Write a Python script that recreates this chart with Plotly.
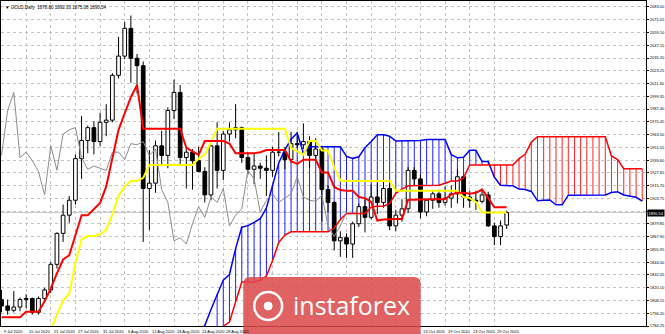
import plotly.graph_objects as go

# ---------------- data (GOLD, Daily) ----------------
opens = [1809, 1803, 1799, 1802, 1809, 1810, 1797, 1810, 1818, 1842,
         1871, 1888, 1902, 1941, 1958, 1970, 1957, 1975, 1977, 2019,
         2037, 2063, 2035, 2028, 1913, 1918, 1953, 1944, 1986, 2003,
         1942, 1947, 1939, 1929, 1907, 1953, 1930, 1964, 1968, 1970,
         1942, 1931, 1934, 1932, 1930, 1947, 1947, 1940, 1955, 1954,
         1957, 1944, 1950, 1912, 1900, 1864, 1867, 1861, 1880, 1896,
         1886, 1905, 1900, 1913, 1878, 1888, 1894, 1930, 1922, 1891,
         1902, 1908, 1900, 1904, 1908, 1924, 1905, 1902, 1901, 1907,
         1878, 1868, 1878.80]
highs = [1818, 1809, 1817, 1811, 1814, 1811, 1812, 1820, 1844, 1872,
         1898, 1906, 1945, 1981, 1972, 1976, 1984, 1992, 2021, 2055,
         2069, 2075, 2039, 2032, 1949, 1958, 1967, 1989, 2015, 2010,
         1951, 1950, 1952, 1933, 1954, 1975, 1967, 1975, 1992, 1971,
         1947, 1946, 1937, 1944, 1952, 1966, 1952, 1966, 1966, 1974,
         1962, 1960, 1953, 1916, 1901, 1873, 1871, 1882, 1899, 1903,
         1917, 1918, 1920, 1921, 1893, 1903, 1933, 1933, 1926, 1903,
         1911, 1912, 1915, 1916, 1931, 1925, 1911, 1911, 1913, 1910,
         1881, 1883, 1892.33]
lows = [1797, 1795, 1797, 1798, 1801, 1795, 1795, 1807, 1815, 1838,
        1863, 1881, 1898, 1922, 1946, 1945, 1953, 1962, 1975, 2016,
        2034, 2012, 2002, 1863, 1874, 1909, 1935, 1932, 1978, 1934,
        1913, 1912, 1928, 1900, 1902, 1913, 1921, 1957, 1960, 1937,
        1926, 1917, 1922, 1906, 1924, 1943, 1931, 1937, 1951, 1950,
        1932, 1941, 1882, 1891, 1855, 1849, 1848, 1848, 1877, 1872,
        1884, 1889, 1895, 1874, 1873, 1882, 1890, 1916, 1885, 1887,
        1894, 1895, 1897, 1895, 1899, 1895, 1895, 1893, 1899, 1877,
        1860, 1860, 1875.08]
closes = [1803, 1799, 1802, 1809, 1810, 1797, 1810, 1818, 1842, 1871,
          1888, 1902, 1941, 1958, 1970, 1957, 1975, 1977, 2019, 2037,
          2063, 2035, 2028, 1913, 1918, 1953, 1944, 1986, 2003, 1942,
          1947, 1939, 1929, 1907, 1953, 1930, 1964, 1968, 1970, 1942,
          1931, 1934, 1932, 1930, 1947, 1947, 1940, 1955, 1954, 1957,
          1944, 1950, 1912, 1900, 1864, 1867, 1861, 1880, 1896, 1886,
          1905, 1900, 1913, 1878, 1888, 1894, 1930, 1922, 1891, 1902,
          1908, 1900, 1904, 1908, 1924, 1905, 1902, 1901, 1907, 1878,
          1868, 1878, 1890.54]

tenkan = [1792.5, 1792.5, 1792.5, 1792.5, 1797.5, 1797.5, 1797.5, 1807.5, 1819.5, 1833.5,
          1846.5, 1850.5, 1870, 1888, 1888, 1894, 1899.5, 1915, 1942, 1968,
          1983.5, 1998.5, 2010, 1969, 1969, 1969, 1969, 1969, 1969, 1969,
          1951, 1947.5, 1944.5, 1957.5, 1957.5, 1957.5, 1957.5, 1955, 1946, 1946,
          1946, 1946, 1947, 1949, 1949, 1949, 1949, 1938.5, 1936, 1940,
          1940, 1940, 1928, 1928, 1914.5, 1911.5, 1911, 1911, 1905, 1904,
          1900.5, 1883, 1884, 1884.5, 1884.5, 1884.5, 1902.5, 1902.5, 1903, 1903,
          1903, 1903, 1903, 1907.5, 1909, 1909, 1908, 1909, 1912, 1904,
          1895.5, 1895.5, 1895.5]
kijun = [1744, 1744, 1747.5, 1755.5, 1761, 1761, 1761, 1762, 1780, 1795,
         1808, 1814.5, 1843.5, 1865.5, 1868.5, 1868.5, 1870, 1874.5, 1889, 1906,
         1915, 1920, 1920, 1923, 1935, 1935, 1935, 1935, 1935, 1935,
         1935, 1935, 1941, 1945, 1956.5, 1969, 1969, 1969, 1969, 1969,
         1969, 1969, 1969, 1969, 1969, 1969, 1969, 1951, 1947.5, 1944.5,
         1957.5, 1957.5, 1948.5, 1948.5, 1932.5, 1920.5, 1920, 1920, 1920, 1920,
         1920, 1920, 1920, 1920, 1911, 1911, 1911, 1911, 1911, 1911,
         1911, 1911, 1911, 1911, 1911, 1905, 1904, 1900.5, 1890.5, 1890.5,
         1890.5, 1890.5, 1890.5]

span_a_start = 32
span_a = [1779, 1784.75, 1799.75, 1814.25, 1827.25, 1832.5, 1856.75, 1876.75, 1878.25, 1881.25,
          1884.75, 1894.75, 1915.5, 1937, 1949.25, 1959.25, 1965, 1946, 1952, 1952,
          1952, 1952, 1952, 1952, 1943, 1941.25, 1942.75, 1951.25, 1957, 1963.25,
          1963.25, 1962, 1957.5, 1957.5, 1957.5, 1957.5, 1958, 1959, 1959, 1959,
          1959, 1944.75, 1941.75, 1942.25, 1948.75, 1948.75, 1938.25, 1938.25, 1923.5, 1916,
          1915.5, 1915.5, 1912.5, 1912, 1910.25, 1901.5, 1902, 1902.25, 1897.75, 1897.75,
          1906.75, 1906.75, 1907, 1907, 1907, 1907, 1907, 1909.25, 1910, 1907,
          1906, 1904.75, 1901.25]
span_b_start = 35
span_b = [1771, 1784, 1788, 1807.5, 1825.5, 1825.5, 1825.5, 1827, 1831, 1845.5,
          1862.5, 1869.5, 1872.5, 1872.5, 1872.5, 1872.5, 1872.5, 1872.5, 1872.5, 1876,
          1884, 1889.5, 1889.5, 1889.5, 1889.5, 1895.5, 1896.5, 1896.5, 1899, 1908.5,
          1912.5, 1915.5, 1915.5, 1915.5, 1916, 1916, 1916, 1918, 1920, 1920,
          1923, 1935, 1935, 1935, 1935, 1935, 1935, 1935, 1935, 1941,
          1945, 1956.5, 1961.5, 1961.5, 1961.5, 1961.5, 1961.5, 1961.5, 1961.5, 1961.5,
          1961.5, 1961.5, 1961.5, 1961.5, 1943.5, 1940, 1931.5, 1931.5, 1931.5, 1931.5]

chikou_shift = 26

date_tick_idx = [0, 4, 8, 12, 16, 20, 24, 28, 32, 36, 40, 44, 48, 52, 56, 60, 64, 68, 72, 76, 80]
date_tick_text = ["9 Jul 2020", "15 Jul 2020", "21 Jul 2020", "27 Jul 2020", "31 Jul 2020",
                  "6 Aug 2020", "12 Aug 2020", "18 Aug 2020", "24 Aug 2020", "28 Aug 2020",
                  "3 Sep 2020", "9 Sep 2020", "15 Sep 2020", "21 Sep 2020", "25 Sep 2020",
                  "1 Oct 2020", "7 Oct 2020", "13 Oct 2020", "19 Oct 2020", "23 Oct 2020",
                  "29 Oct 2020"]

price_ticks = [2083.00, 2071.05, 2059.10, 2047.15, 2035.20, 2023.25, 2011.30, 1999.35,
               1987.40, 1975.45, 1963.50, 1951.55, 1939.60, 1927.65, 1915.70, 1903.75,
               1891.80, 1879.85, 1867.90, 1855.95, 1844.00, 1832.05, 1820.10, 1808.15,
               1796.20, 1784.25]
last_price = 1890.54
title_text = "\u25bc GOLD,Daily  1878.80 1892.33 1875.08 1890.54"

# ---------------- geometry ----------------
W, H = 665, 334
ML, MR, MT, MB = 0, 18, 1, 8
PW, PH = W - ML - MR, H - MT - MB
XR = [-0.08, 104.61]
YR = [1784.25, 2088.6]
LOGO_PX = (243, 421, 277)  # left, right, top (px)

n = len(closes)
idx = list(range(n))

fig = go.Figure()

# cloud hatch
bx, by, rx, ry = [], [], [], []
a_end = span_a_start + len(span_a)
for j in range(span_b_start, a_end):
    a = span_a[j - span_a_start]
    b = span_b[j - span_b_start]
    if a >= b:
        bx += [j, j, None]; by += [b, a, None]
    else:
        rx += [j, j, None]; ry += [a, b, None]
fig.add_trace(go.Scatter(x=bx, y=by, mode="lines", line=dict(color="#2020ff", width=1), hoverinfo="skip"))
fig.add_trace(go.Scatter(x=rx, y=ry, mode="lines", line=dict(color="#ff2020", width=1), hoverinfo="skip"))

# candles
half = 0.3
wx, wy = [], []
ux, uy, dx, dy = [], [], [], []
for i in idx:
    o, h, l, c = opens[i], highs[i], lows[i], closes[i]
    lo, hi = min(o, c), max(o, c)
    wx += [i, i, None, i, i, None]
    wy += [l, lo, None, hi, h, None]
    px = [i - half, i + half, i + half, i - half, i - half, None]
    py = [lo, lo, hi, hi, lo, None]
    if c >= o:
        ux += px; uy += py
    else:
        dx += px; dy += py
fig.add_trace(go.Scatter(x=wx, y=wy, mode="lines", line=dict(color="black", width=1), hoverinfo="skip"))
fig.add_trace(go.Scatter(x=ux, y=uy, mode="lines", fill="toself", fillcolor="white",
                         line=dict(color="black", width=1), hoverinfo="skip"))
fig.add_trace(go.Scatter(x=dx, y=dy, mode="lines", fill="toself", fillcolor="black",
                         line=dict(color="black", width=1), hoverinfo="skip"))

# ichimoku lines
fig.add_trace(go.Scatter(x=list(range(span_a_start, a_end)), y=span_a, mode="lines",
                         line=dict(color="#0000ff", width=1.5), hoverinfo="skip"))
fig.add_trace(go.Scatter(x=list(range(span_b_start, span_b_start + len(span_b))), y=span_b, mode="lines",
                         line=dict(color="#ff0000", width=1.5), hoverinfo="skip"))
fig.add_trace(go.Scatter(x=idx[:n - chikou_shift], y=closes[chikou_shift:], mode="lines",
                         line=dict(color="#8c8c8c", width=1), hoverinfo="skip"))
fig.add_trace(go.Scatter(x=idx, y=kijun, mode="lines", line=dict(color="#ffff00", width=2), hoverinfo="skip"))
fig.add_trace(go.Scatter(x=idx, y=tenkan, mode="lines", line=dict(color="#ff0000", width=2), hoverinfo="skip"))

tick_text = ["" if abs(v - last_price) < 3 else f"{v:.2f}" for v in price_ticks]

fig.update_layout(
    width=W, height=H, margin=dict(l=ML, r=MR, t=MT, b=MB),
    paper_bgcolor="white", plot_bgcolor="white", showlegend=False,
    xaxis=dict(range=XR, tickvals=date_tick_idx, showticklabels=False, ticks="",
               showgrid=True, gridcolor="#c4c4c4", griddash="dot", gridwidth=1,
               zeroline=False, showline=True, linecolor="black", linewidth=1, mirror=True),
    yaxis=dict(range=YR, side="right", tickvals=price_ticks, ticktext=tick_text,
               tickfont=dict(size=4, family="Liberation Sans", color="black"),
               ticks="outside", ticklen=2, tickcolor="black",
               showgrid=True, gridcolor="#c4c4c4", griddash="dot", gridwidth=1,
               zeroline=False, showline=True, linecolor="black", linewidth=1, mirror=True),
)

# bid line
fig.add_shape(type="line", xref="paper", yref="y", x0=0, x1=1, y0=last_price, y1=last_price,
              line=dict(color="#c8c8c8", width=1), layer="below")

annotations = []
# title
annotations.append(dict(text=title_text, xref="paper", yref="paper", x=0, y=1, xanchor="left",
                        yanchor="top", xshift=2, yshift=-2, showarrow=False,
                        font=dict(size=4.5, family="Liberation Sans", color="black")))
# date labels (those behind the watermark are hidden)
for i, t in zip(date_tick_idx, date_tick_text):
    xpx = (i - XR[0]) / (XR[1] - XR[0]) * PW
    if LOGO_PX[0] - 2 < xpx < LOGO_PX[1] - 2:
        continue
    annotations.append(dict(text=t, xref="x", yref="paper", x=i, y=0, xanchor="left", yanchor="top",
                            xshift=1, yshift=-1, showarrow=False,
                            font=dict(size=4, family="Liberation Sans", color="black")))
# current price box
annotations.append(dict(text=f"{last_price:.2f}", xref="paper", yref="y", x=1, y=last_price,
                        xanchor="left", yanchor="middle", xshift=1, showarrow=False,
                        bgcolor="black", borderpad=0.5,
                        font=dict(size=4, family="Liberation Sans", color="white")))

# watermark logo
def px2paper_x(p):
    return (p - ML) / PW

def px2paper_y(p):
    return (H - MB - p) / PH

x0, x1 = px2paper_x(LOGO_PX[0]), px2paper_x(LOGO_PX[1])
yt, yb = px2paper_y(LOGO_PX[2]), px2paper_y(H + 4)
rxp, ryp = 7 / PW, 7 / PH
path = (f"M {x0},{yb} L {x0},{yt - ryp} Q {x0},{yt} {x0 + rxp},{yt} "
        f"L {x1 - rxp},{yt} Q {x1},{yt} {x1},{yt - ryp} L {x1},{yb} Z")
fig.add_shape(type="path", path=path, xref="paper", yref="paper",
              fillcolor="rgba(220,72,72,0.86)", line=dict(width=0), layer="above")
fig.add_shape(type="circle", xref="paper", yref="paper",
              x0=px2paper_x(254), x1=px2paper_x(282), y0=px2paper_y(320), y1=px2paper_y(292),
              line=dict(color="white", width=2.5), layer="above")
fig.add_shape(type="circle", xref="paper", yref="paper",
              x0=px2paper_x(264), x1=px2paper_x(272), y0=px2paper_y(310), y1=px2paper_y(302),
              fillcolor="white", line=dict(color="white", width=1), layer="above")
annotations.append(dict(text="instaforex", xref="paper", yref="paper",
                        x=px2paper_x(352), y=px2paper_y(305), xanchor="center", yanchor="middle",
                        showarrow=False, font=dict(size=25, family="Open Sans", color="white")))

fig.update_layout(annotations=annotations)

fig.write_html("out.html")
